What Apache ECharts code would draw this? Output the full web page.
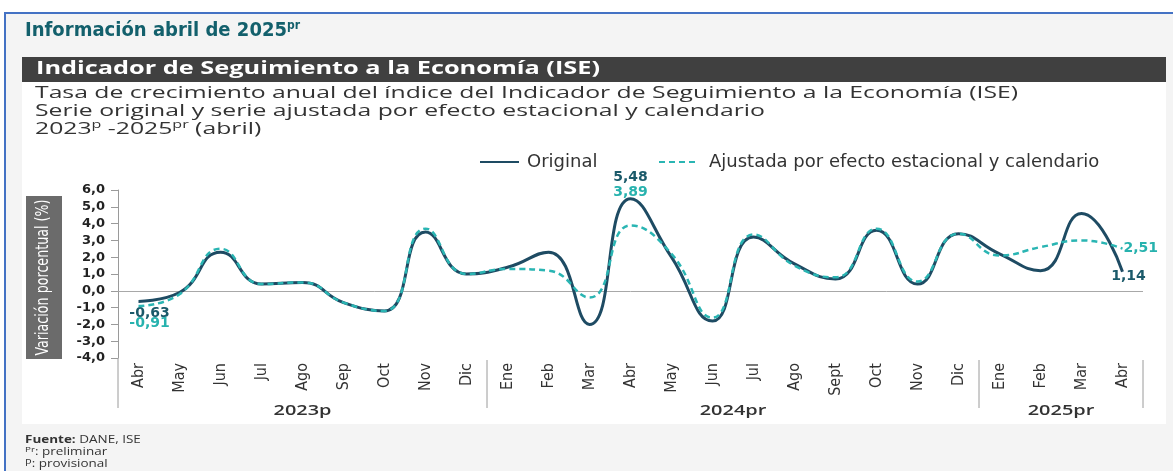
<!DOCTYPE html>
<html><head><meta charset="utf-8">
<script src="https://cdn.jsdelivr.net/npm/echarts@6/dist/echarts.min.js"></script>
<style>html,body{margin:0;padding:0;background:#fff;overflow:hidden}#c{width:1173px;height:471px}</style>
</head><body><div id="c"></div>
<script>
// ---------------- DATA ----------------
const categories = ['Abr','May','Jun','Jul','Ago','Sep','Oct','Nov','Dic',
  'Ene','Feb','Mar','Abr','May','Jun','Jul','Ago','Sept','Oct','Nov','Dic',
  'Ene','Feb','Mar','Abr'];
const original = [-0.63,-0.1,2.3,0.4,0.5,-0.7,-1.2,3.5,1.0,
  1.4,2.3,-2.0,5.48,2.0,-1.8,3.2,1.6,0.7,3.6,0.4,3.4,
  2.2,1.2,4.6,1.14];
const ajustada = [-0.91,-0.2,2.5,0.4,0.5,-0.7,-1.2,3.7,1.0,
  1.3,1.2,-0.4,3.89,2.2,-1.6,3.35,1.5,0.8,3.7,0.55,3.4,
  2.1,2.6,3.0,2.51];
const yearLabels = ['2023p','2024pr','2025pr'];
const yearCounts = [9,12,4];
const seriesNames = ['Original','Ajustada por efecto estacional y calendario'];
const yMin = -4, yMax = 6, yInterval = 1;

// ---------------- STYLE ----------------
const C_ORIG = '#1e4b63', C_ADJ = '#2ab5b3';
const C_ORIG_LBL = '#1b5a6a', C_ADJ_LBL = '#27b2ae';
const F = '"Open Sans", "DejaVu Sans", sans-serif';
const FN = '"Liberation Sans Narrow", "DejaVu Sans Condensed", "Roboto", sans-serif';
const FD = '"DejaVu Sans", sans-serif';

const mctx = document.createElement('canvas').getContext('2d');
function textW(str, size, family, weight){ mctx.font = (weight||'normal')+' '+size+'px '+family; return mctx.measureText(str).width; }
function fitScale(str, size, family, weight, target){ return target / textW(str, size, family, weight); }

// Label configurations for specific points
const fmt2 = v => v.toFixed(2).replace('.', ',');
const lblBase = {show:true, fontFamily: FD, fontWeight:'bold', fontSize:14};
const origLabelCfg = {
  0:  {position:'bottom', offset:[11,0], color:C_ORIG_LBL},
  12: {position:'top', offset:[0,-9], color:C_ORIG_LBL},
  24: {position:'bottom', offset:[6,-7], color:C_ORIG_LBL}
};
const adjLabelCfg = {
  0:  {position:'bottom', offset:[11,5], color:C_ADJ_LBL},
  12: {position:'top', offset:[0,-21], color:C_ADJ_LBL},
  24: {position:'right', offset:[-4,0], color:C_ADJ_LBL}
};
function withLabels(values, cfg){
  return values.map((v,i)=> cfg[i] ? {value:v, label:Object.assign({}, lblBase, {formatter: fmt2(v)}, cfg[i])} : v);
}

const chart = echarts.init(document.getElementById('c'), null, {renderer:'canvas'});
const option = {
  backgroundColor:'#ffffff',
  animation:false,
  grid:{left:118, right:30, top:190, bottom:113, containLabel:false},
  legend:[
    {data:[seriesNames[0]], left:474, top:148, itemWidth:39, itemHeight:14, itemGap:0,
     itemStyle:{opacity:0}, textStyle:{fontFamily:FD, fontSize:18, color:'#333', padding:[0,0,0,3]}},
    {data:[seriesNames[1]], left:653, top:148, itemWidth:38, itemHeight:14, itemGap:0,
     itemStyle:{opacity:0}, textStyle:{fontFamily:FD, fontSize:18, color:'#333', padding:[0,0,0,7]}}
  ],
  xAxis:{type:'category', data:categories, boundaryGap:true,
    axisLine:{show:false}, axisTick:{show:false}, splitLine:{show:false},
    axisLabel:{rotate:90, margin:5, interval:0, fontFamily:FN, fontSize:16, color:'#333'}},
  yAxis:{type:'value', min:yMin, max:yMax, interval:yInterval,
    axisLine:{show:true, lineStyle:{color:'#9a9a9a', width:1}},
    axisTick:{show:true, length:7, lineStyle:{color:'#9a9a9a'}},
    splitLine:{show:false},
    axisLabel:{margin:13, fontFamily:FD, fontWeight:'bold', fontSize:13, color:'#222',
      formatter: v => v.toFixed(1).replace('.', ',')}},
  series:[
    {name:seriesNames[0], type:'line', smooth:0.5, symbol:'circle', symbolSize:0, showSymbol:true,
     lineStyle:{color:C_ORIG, width:3}, itemStyle:{color:C_ORIG}, z:3,
     data: withLabels(original, origLabelCfg),
     markLine:{silent:true, symbol:['none','none'], label:{show:false},
       lineStyle:{color:'#a8a8a8', width:1, type:'solid'}, data:[{yAxis:0}], z:1}},
    {name:seriesNames[1], type:'line', smooth:0.5, symbol:'circle', symbolSize:0, showSymbol:true,
     lineStyle:{color:C_ADJ, width:2.5, type:[6,4]}, itemStyle:{color:C_ADJ}, z:4,
     data: withLabels(ajustada, adjLabelCfg)}
  ]
};
chart.setOption(option);

// ---------------- DECORATION (graphic) ----------------
const els = [];
// panels
els.push({type:'rect', z:-20, shape:{x:6,y:14,width:1167,height:457}, style:{fill:'#f4f4f4'}});
els.push({type:'rect', z:-19, shape:{x:5,y:12,width:1168,height:2}, style:{fill:'#4472c4'}});
els.push({type:'rect', z:-19, shape:{x:4,y:12,width:2,height:459}, style:{fill:'#4472c4'}});
els.push({type:'rect', z:-18, shape:{x:22,y:82,width:1144,height:342}, style:{fill:'#ffffff'}});
els.push({type:'rect', z:-18, shape:{x:22,y:57,width:1144,height:25}, style:{fill:'#404040'}});

function addPieces(list, x, y, scale){
  let cx = x;
  list.forEach(p=>{
    els.push({type:'text', x:cx, y:y+(p.dy||0), scaleX:scale,
      style:{text:p.t, fontSize:p.size, fontFamily:p.family, fontWeight:p.weight||'normal',
        fill:p.fill, align:'left', verticalAlign:'middle'}});
    cx += textW(p.t, p.size, p.family, p.weight) * scale;
  });
}
// main title
const t1 = 'Información abril de 2025';
const s1 = fitScale(t1, 20, FN, 'bold', 262);
addPieces([{t:t1,size:20,family:FN,weight:'bold',fill:'#13606c'},
           {t:'pr',size:12,family:FN,weight:'bold',fill:'#13606c',dy:-5}], 25, 31, s1);
// bar title
const t2 = 'Indicador de Seguimiento a la Economía (ISE)';
addPieces([{t:t2,size:18,family:F,weight:'bold',fill:'#ffffff'}], 36, 69, fitScale(t2,18,F,'bold',564));
// subtitles
const sub1 = 'Tasa de crecimiento anual del índice del Indicador de Seguimiento a la Economía (ISE)';
const sS = fitScale(sub1, 17, F, 'normal', 983);
addPieces([{t:sub1,size:17,family:F,fill:'#333'}], 35, 93, sS);
addPieces([{t:'Serie original y serie ajustada por efecto estacional y calendario',size:17,family:F,fill:'#333'}], 35, 111, sS);
addPieces([{t:'2023',size:17,family:F,fill:'#333'},{t:'p',size:11,family:F,fill:'#333',dy:-4},
           {t:' -2025',size:17,family:F,fill:'#333'},{t:'pr',size:11,family:F,fill:'#333',dy:-4},
           {t:' (abril)',size:17,family:F,fill:'#333'}], 35, 129, sS);
// footer
const fS = fitScale('Fuente: DANE, ISE', 11, F, 'normal', 112);
addPieces([{t:'Fuente:',size:11,family:F,weight:'bold',fill:'#333'},{t:' DANE, ISE',size:11,family:F,fill:'#333'}], 25, 440, fS);
addPieces([{t:'Pr',size:8,family:F,fill:'#333',dy:-2},{t:': preliminar',size:11,family:F,fill:'#333'}], 25, 452, fS);
addPieces([{t:'P',size:9,family:F,fill:'#333',dy:-1},{t:': provisional',size:11,family:F,fill:'#333'}], 25, 464, fS);

// y-axis name box
els.push({type:'rect', z:-5, shape:{x:26,y:196,width:36,height:163}, style:{fill:'#6b6b6b'}});
const yName = 'Variación porcentual (%)';
els.push({type:'text', x:44, y:277.5, rotation:Math.PI/2, scaleX:fitScale(yName,17,FN,'normal',156),
  style:{text:yName, fontSize:17, fontFamily:FN, fill:'#ffffff', align:'center', verticalAlign:'middle'}});

// axis extension + group separators + year labels
const x0 = chart.convertToPixel({xAxisIndex:0}, 0);
const x1 = chart.convertToPixel({xAxisIndex:0}, 1);
const band = x1 - x0;
const yBottom = chart.convertToPixel({yAxisIndex:0}, yMin);
const axisX = x0 - band/2;
els.push({type:'line', shape:{x1:axisX,y1:yBottom,x2:axisX,y2:408}, style:{stroke:'#9a9a9a', lineWidth:1}});
const yS = fitScale('2023p', 15, F, '600', 58);
let start = 0;
yearCounts.forEach((n,gi)=>{
  const left = x0 - band/2 + start*band;
  const right = left + n*band;
  els.push({type:'line', shape:{x1:right,y1:360,x2:right,y2:408}, style:{stroke:'#9a9a9a', lineWidth:1}});
  els.push({type:'text', x:(left+right)/2, y:411, scaleX:yS,
    style:{text:yearLabels[gi], fontSize:15, fontFamily:F, fontWeight:'600', fill:'#333', align:'center', verticalAlign:'middle'}});
  start += n;
});
chart.setOption({graphic:{elements:els}});
</script>
</body></html>
